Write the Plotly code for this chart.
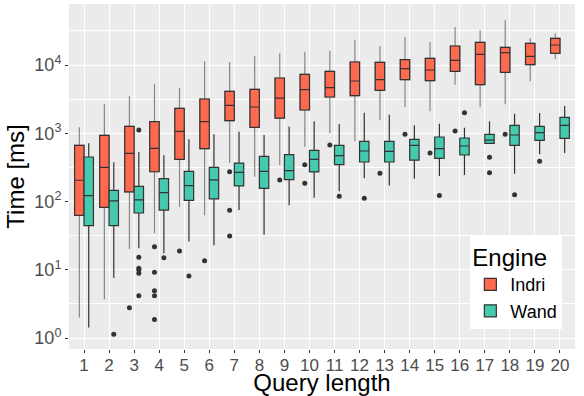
import plotly.graph_objects as go

queries = list(range(1, 21))

indri_low = [2.0, 3.69, 20.1, 34.2, 84, 62.8, 371, 231, 343, 635, 998, 762, 1546, 2399, 2095, 5150, 2399, 2655, 5770, 12110]
indri_q1 = [62.8, 82, 138, 273, 415, 594, 1528, 1222, 1672, 2191, 3397, 3553, 4258, 6090, 5890, 8080, 5150, 7810, 10110, 14840]
indri_med = [205, 317, 508, 601, 1067, 1479, 2566, 2425, 3283, 4348, 4652, 5830, 6090, 8830, 8450, 11720, 14330, 15160, 13400, 19640]
indri_q3 = [666, 933, 1263, 1479, 2318, 3177, 4115, 4404, 6450, 7300, 8080, 11070, 10940, 11970, 12530, 18980, 21490, 18160, 20800, 24600]
indri_high = [1222, 2655, 3478, 5270, 4603, 11330, 11070, 13550, 14840, 15500, 16220, 23500, 18980, 25700, 21730, 36040, 32220, 45180, 24600, 29110]

wand_low = [1.42, 7.57, 20.6, 17.4, 26, 22.8, 75, 32.7, 88, 114, 141, 219, 171, 216, 236, 244, 713, 256, 491, 514]
wand_q1 = [44.2, 44.2, 67.9, 75, 104, 109, 169, 156, 209, 271, 347, 379, 379, 405, 429, 480, 713, 666, 788, 843]
wand_med = [122, 102, 106, 135, 171, 207, 268, 277, 283, 415, 469, 550, 544, 666, 594, 651, 796, 943, 1019, 1307]
wand_q3 = [449, 146, 167, 216, 277, 317, 366, 459, 485, 562, 666, 762, 762, 815, 881, 852, 965, 1307, 1263, 1713]
wand_high = [713, 375, 531, 475, 815, 965, 1054, 943, 1248, 1496, 1366, 2003, 1871, 1307, 1381, 1207, 1496, 1935, 1981, 2508]

indri_out_q = [3, 4, 4, 4, 4, 4, 5, 6, 7, 7, 7, 9, 10, 10, 11, 13, 14, 15, 16, 18]
indri_out_v = [2.78, 21.8, 9.17, 4.94, 4.17, 1.86, 18.8, 13.6, 273, 74.3, 31.2, 207, 347, 185, 673, 259, 965, 514, 1079, 965]
wand_out_q = [2, 3, 3, 3, 3, 3, 3, 4, 5, 11, 12, 15, 16, 17, 17, 18, 19]
wand_out_v = [1.14, 1116, 15.2, 10.5, 10.0, 8.87, 4.17, 15.0, 8.1, 119, 112, 122, 2003, 444, 264, 126, 388]

ytick_vals = [1, 10, 100, 1000, 10000]
ytick_text = ["10<sup>0</sup>", "10<sup>1</sup>", "10<sup>2</sup>", "10<sup>3</sup>", "10<sup>4</sup>"]
minor_vals = [10 ** (k + 0.5) for k in range(-1, 5)]

INDRI = "#FE6A4F"
WAND = "#45C9AF"
DARK = "#333333"
DODGE = 0.1875
BW = 0.375

xi = [q - DODGE for q in queries]
xw = [q + DODGE for q in queries]

fig = go.Figure()

# Indri whiskers (grey) under the box
fig.add_trace(go.Box(
    x=xi, q1=indri_q1, median=indri_med, q3=indri_q3,
    lowerfence=indri_low, upperfence=indri_high,
    width=BW, whiskerwidth=0, fillcolor=INDRI,
    line=dict(color="#888888", width=1.2), boxpoints=False,
    showlegend=False, hoverinfo="skip"))
# Indri box outline (dark)
fig.add_trace(go.Box(
    x=xi, q1=indri_q1, median=indri_med, q3=indri_q3,
    lowerfence=indri_q1, upperfence=indri_q3,
    width=BW, whiskerwidth=0, fillcolor=INDRI,
    line=dict(color=DARK, width=1.2), boxpoints=False,
    name="Indri", legendgroup="Indri"))
fig.add_trace(go.Box(
    x=xw, q1=wand_q1, median=wand_med, q3=wand_q3,
    lowerfence=wand_low, upperfence=wand_high,
    width=BW, whiskerwidth=0, fillcolor=WAND,
    line=dict(color=DARK, width=1.2), boxpoints=False,
    name="Wand", legendgroup="Wand"))

fig.add_trace(go.Scatter(
    x=[q - DODGE for q in indri_out_q], y=indri_out_v, mode="markers",
    marker=dict(color=DARK, size=5), showlegend=False, hoverinfo="skip"))
fig.add_trace(go.Scatter(
    x=[q + DODGE for q in wand_out_q], y=wand_out_v, mode="markers",
    marker=dict(color=DARK, size=5), showlegend=False, hoverinfo="skip"))

fig.update_layout(
    width=584, height=396,
    margin=dict(l=69, r=9, t=4, b=47, autoexpand=False),
    paper_bgcolor="white", plot_bgcolor="#EBEBEB",
    font=dict(family="Liberation Sans, Arial, sans-serif", color="black"),
    boxmode="overlay",
    legend=dict(
        title=dict(text="Engine", font=dict(size=24)),
        font=dict(size=18), bgcolor="white",
        x=0.975, xanchor="right", y=0.058, yanchor="bottom",
        tracegroupgap=0, itemwidth=30),
)
fig.update_xaxes(
    range=[0.4, 20.6], tickvals=queries, ticktext=[str(q) for q in queries],
    showgrid=True, gridcolor="white", gridwidth=1.2, zeroline=False,
    ticks="outside", ticklen=3, tickcolor="#333333",
    tickfont=dict(size=17, color="#4D4D4D"), ticklabelstandoff=-2,
    title=dict(text="Query length", font=dict(size=24), standoff=3),
    automargin=False,
)
fig.update_yaxes(
    type="log", range=[-0.161, 4.894],
    tickvals=ytick_vals, ticktext=ytick_text,
    showgrid=True, gridcolor="white", gridwidth=1.2, zeroline=False,
    ticks="outside", ticklen=3, tickcolor="#333333",
    tickfont=dict(size=18, color="#4D4D4D"),
    minor=dict(tickvals=minor_vals, showgrid=True, gridcolor="white", gridwidth=0.6, ticks=""),
    title=dict(text="Time [ms]", font=dict(size=24), standoff=2),
    automargin=False,
)

fig.write_html("out.html", config={"displayModeBar": False},
               post_script="document.body.style.margin='0';")
